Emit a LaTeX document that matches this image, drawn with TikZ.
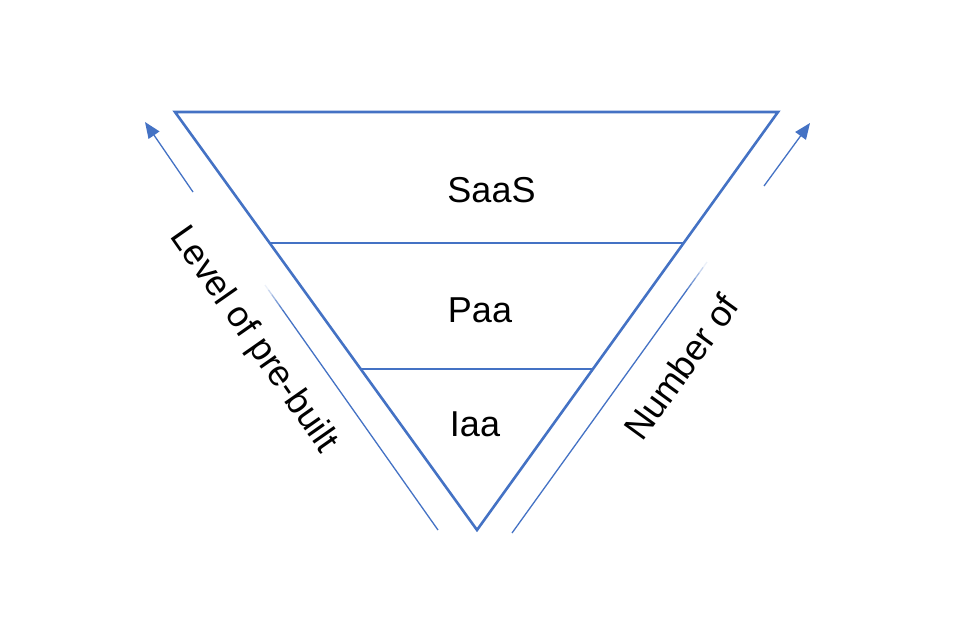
\documentclass[tikz,border=0pt]{standalone}
\usepackage{fontspec}
\setmainfont{Liberation Sans}
\usetikzlibrary{arrows.meta,calc}
\definecolor{ppblue}{RGB}{68,114,196}
\tikzset{
  tri/.style={draw=ppblue,line width=2.6pt,line join=miter},
  tier/.style={draw=ppblue,line width=1.5pt},
  guide/.style={draw=ppblue,line width=1.3pt},
  lbl/.style={font=\fontsize{36}{43}\selectfont,inner sep=0pt,text=black},
  arr/.style={draw=ppblue,line width=1.3pt,-{Triangle[length=16pt,width=13pt]}}
}
\begin{document}
\begin{tikzpicture}[x=1pt,y=-1pt]
\useasboundingbox (0,0) rectangle (960,640);
\coordinate (tl) at (175,112);
\coordinate (tr) at (778,112);
\coordinate (bt) at (477,530);
\draw[tri] (tl) -- (tr) -- (bt) -- cycle;
\coordinate (l1) at ($(tl)!0.3134!(bt)$);
\coordinate (r1) at ($(tr)!0.3134!(bt)$);
\coordinate (l2) at ($(tl)!0.6148!(bt)$);
\coordinate (r2) at ($(tr)!0.6148!(bt)$);
\draw[tier] (l1) -- (r1);
\draw[tier] (l2) -- (r2);
\node[lbl] (saas) at (491.5,190) {SaaS};
\node[lbl] (paa) at (480,310) {Paa};
\node[lbl] (iaa) at (475,424) {Iaa};
% left guide
\coordinate (la) at (265,285);
\coordinate (lb) at (438,530);
\foreach \s/\e/\o in {0/0.02/0.1,0.02/0.04/0.3,0.04/0.06/0.5,0.06/0.08/0.7,0.08/0.1/0.85}
  \draw[guide,opacity=\o] ($(la)!\s!(lb)$) -- ($(la)!\e!(lb)$);
\draw[guide] ($(la)!0.1!(lb)$) -- (lb);
\coordinate (lat) at (193,192);
\coordinate (lah) at (145,122);
\draw[arr] (lat) -- (lah);
\node[lbl,rotate=-55] (level) at (253,340) {Level of pre-built};
% right guide
\coordinate (ra) at (707,262);
\coordinate (rb) at (512,533);
\foreach \s/\e/\o in {0/0.02/0.1,0.02/0.04/0.3,0.04/0.06/0.5,0.06/0.08/0.7,0.08/0.1/0.85}
  \draw[guide,opacity=\o] ($(ra)!\s!(rb)$) -- ($(ra)!\e!(rb)$);
\draw[guide] ($(ra)!0.1!(rb)$) -- (rb);
\coordinate (rat) at (764,186);
\coordinate (rah) at (810,123);
\draw[arr] (rat) -- (rah);
\node[lbl,rotate=54] (number) at (681,367) {Number of};
\end{tikzpicture}
\end{document}
